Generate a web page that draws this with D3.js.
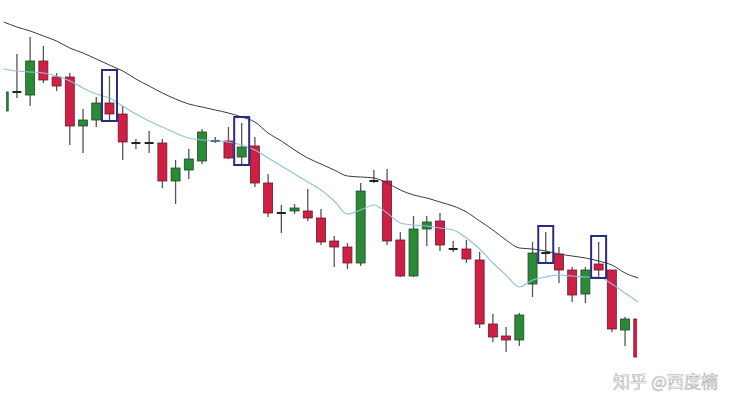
<!DOCTYPE html>
<html><head><meta charset="utf-8">
<script src="https://cdn.jsdelivr.net/npm/d3@7"></script>
<style>body{margin:0;background:#fff}svg{display:block}</style>
</head><body>
<script>
// Candle OHLC values (arbitrary price units)
const opens  = [289,308,305,339,323,323,274,280,297,286,257,257,257,219,230,239,259,259,243,254,217,187,189,189,182,159,153,137,219,219,160,124,171,179,151,151,140,76,64,60,116,147,146,130,106,136,130,70,81];
const highs  = [310,346,363,354,327,327,291,303,324,294,261,269,261,240,251,271,263,273,277,263,226,195,196,211,191,164,157,217,230,231,168,184,184,187,159,160,148,86,73,87,158,168,153,133,133,158,130,83,81];
const lows   = [288,302,294,317,309,255,247,273,280,240,251,247,212,196,221,236,257,241,236,213,183,167,186,179,155,133,131,134,217,155,123,123,154,149,148,137,72,58,48,54,103,138,117,98,97,123,68,54,43];
const closes = [308,308,339,320,314,274,280,297,286,258,257,257,219,232,241,268,259,242,253,217,187,187,192,182,158,153,137,209,219,159,124,171,178,155,151,141,76,63,60,85,147,147,130,105,130,130,71,81,43];
// Moving averages
const maSlow = [378,373,369,364,359,352,347,341,335,329,321,314,307,301,296,293,290,287,283,278,267,259,250,242,236,230,224,223,222,217,210,205,202,198,194,188,179,170,160,152,151,149,146,144,142,139,135,127,122];
const maFast = [331,329,328,327,324,319,312,306,302,294,286,279,273,267,262,260,259,258,255,250,242,234,226,218,210,199,186,190,195,187,177,175,174,172,170,162,151,137,125,113,120,123,125,124,123,123,116,107,98];
// Highlighted candles (indices)
const highlighted = [8,18,41,45];
const watermark = "知乎 @西度楠";

const W = 739, H = 415;
const svg = d3.select("body").append("svg").attr("width", W).attr("height", H);
const n = opens.length;
const x = d3.scalePoint().domain(d3.range(n)).range([-2.9, 644.9]).padding(0.5);
const step = x.step();
const bw = step * 0.68;
const y = d3.scaleLinear().domain([0, 400]).range([400, 0]);

svg.append("defs").append("clipPath").attr("id","plot")
  .append("rect").attr("x", 6).attr("y", 0).attr("width", 631).attr("height", H);

const g = svg.append("g").attr("clip-path","url(#plot)");

const RED = "#cf1f45", GREEN = "#2b8a36";
const data = d3.range(n).map(i => ({i, o: opens[i], h: highs[i], l: lows[i], c: closes[i]}));

// wicks
g.selectAll(".wick").data(data).join("line")
  .attr("x1", d => x(d.i)).attr("x2", d => x(d.i))
  .attr("y1", d => y(d.h)).attr("y2", d => y(d.l))
  .attr("stroke", "#555").attr("stroke-width", 1.3);

// bodies
g.selectAll(".body").data(data.filter(d => d.o !== d.c)).join("rect")
  .attr("x", d => x(d.i) - bw/2)
  .attr("y", d => y(Math.max(d.o, d.c)))
  .attr("width", bw)
  .attr("height", d => Math.max(1, Math.abs(y(d.o) - y(d.c))))
  .attr("fill", d => d.c > d.o ? GREEN : RED)
  .attr("stroke", d => d.c > d.o ? "#1f4a25" : "#6a1a2c")
  .attr("stroke-width", 0.8);

// doji bars
g.selectAll(".doji").data(data.filter(d => d.o === d.c)).join("line")
  .attr("x1", d => x(d.i) - bw/2).attr("x2", d => x(d.i) + bw/2)
  .attr("y1", d => y(d.o)).attr("y2", d => y(d.o))
  .attr("stroke", "#222").attr("stroke-width", 2);

// MA lines
const line = arr => d3.line().x((d,i) => x(i)).y(d => y(d)).curve(d3.curveMonotoneX)(arr);
svg.append("path").attr("d", line(maSlow)).attr("fill","none").attr("stroke","#3a3a3a").attr("stroke-width",1);
svg.append("path").attr("d", line(maFast)).attr("fill","none").attr("stroke","#8cc2de").attr("stroke-width",1.1);

// highlight boxes
svg.selectAll(".box").data(highlighted.map(i => data[i])).join("rect")
  .attr("x", d => x(d.i) - 7.5)
  .attr("y", d => y(d.h) - 6)
  .attr("width", 15)
  .attr("height", d => y(d.l) - y(d.h) + 7)
  .attr("fill","none").attr("stroke","#2a2c82").attr("stroke-width",2);

// watermark
svg.append("text").attr("x", 718).attr("y", 388).attr("text-anchor","end")
  .attr("font-family","'Noto Sans CJK SC', sans-serif").attr("font-size", 17)
  .attr("fill","#ffffff").attr("stroke","#b0b0b0").attr("stroke-width",0.6)
  .text(watermark);
</script>
</body></html>
